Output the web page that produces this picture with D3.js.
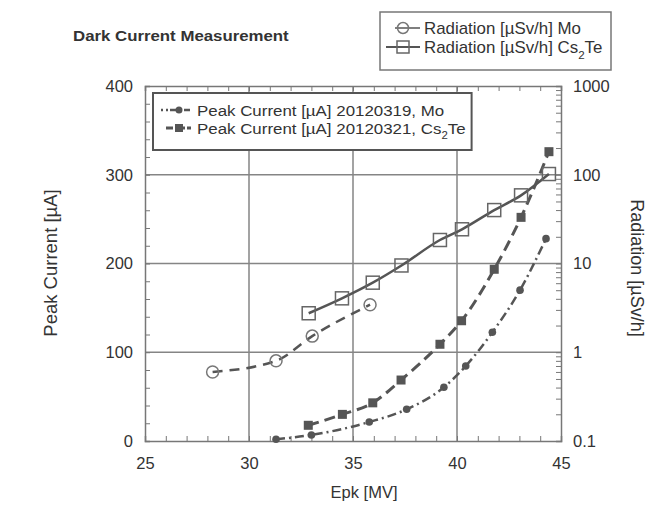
<!DOCTYPE html>
<html><head><meta charset="utf-8">
<script src="https://cdn.jsdelivr.net/npm/d3@7"></script>
<style>body{margin:0;background:#fff}svg{display:block}text{font-family:"Liberation Sans",Arial,sans-serif;fill:#333}</style>
</head><body><svg id="c" width="669" height="506"></svg>
<script>
// Data
const moRadX = [28.25, 31.3, 33.04, 35.82];
const moRadY = [0.6, 0.80, 1.52, 3.43];
const csRadX = [32.87, 34.47, 35.95, 37.33, 39.18, 40.24, 41.79, 43.08, 44.42];
const csRadY = [2.75, 4.05, 6.08, 9.5, 18.4, 24.3, 40, 58.6, 101.9];
const csCurX = [32.85, 34.49, 35.95, 37.31, 39.18, 40.22, 41.79, 43.08, 44.42];
const csCurY = [17.7, 30, 43, 68.7, 109, 135.5, 193.5, 252, 326];
const moCurX = [31.3, 33.0, 35.78, 37.58, 39.37, 40.42, 41.7, 43.03, 44.28];
const moCurY = [2, 6.8, 21.4, 35.7, 60.5, 84.5, 122.5, 170, 228];
const xTicks = [25, 30, 35, 40, 45];
const yLeftTicks = [0, 100, 200, 300, 400];
const yRightTicks = [0.1, 1, 10, 100, 1000];

const svg = d3.select("#c");
const L = 145, R = 561, T = 86, B = 441;
const x = d3.scaleLinear().domain([25, 45]).range([L, R]);
const yL = d3.scaleLinear().domain([0, 400]).range([B, T]);
const yR = d3.scaleLog().domain([0.1, 1000]).range([B, T]);
const grey = "#555";
const SX = 1.09; // horizontal stretch of the inner legend text

// gridlines
const g = svg.append("g");
g.selectAll(".vg").data(xTicks.slice(1, -1)).join("line")
  .attr("x1", d => x(d)).attr("x2", d => x(d)).attr("y1", T).attr("y2", B)
  .attr("stroke", "#858585").attr("stroke-width", 1.5);
g.selectAll(".hg").data(yLeftTicks.slice(1, -1)).join("line")
  .attr("y1", d => yL(d)).attr("y2", d => yL(d)).attr("x1", L).attr("x2", R)
  .attr("stroke", "#858585").attr("stroke-width", 1.5);

// axes (ticks inward)
const fmtR = d => d3.format("~g")(d);
const axB = svg.append("g").attr("transform", `translate(0,${B})`)
  .call(d3.axisBottom(x).tickValues(d3.range(25, 46, 1)).tickSize(-5).tickPadding(13)
    .tickFormat(d => xTicks.includes(d) ? d : ""));
const axT = svg.append("g").attr("transform", `translate(0,${T})`)
  .call(d3.axisTop(x).tickValues(d3.range(25, 46, 1)).tickSize(-5).tickFormat(""));
const axL = svg.append("g").attr("transform", `translate(${L},0)`)
  .call(d3.axisLeft(yL).tickValues(d3.range(0, 401, 20)).tickSize(-5).tickPadding(12)
    .tickFormat(d => yLeftTicks.includes(d) ? d : ""));
const minorR = [];
[0.1, 1, 10, 100].forEach(b => { for (let i = 1; i <= 9; i++) minorR.push(b * i); });
minorR.push(1000);
const axR = svg.append("g").attr("transform", `translate(${R},0)`)
  .call(d3.axisRight(yR).tickValues(minorR).tickSize(-5).tickPadding(12)
    .tickFormat(d => yRightTicks.some(t => Math.abs(t - d) < 1e-9) ? fmtR(d) : ""));
[axB, axT, axL, axR].forEach(a => {
  a.selectAll(".domain").attr("stroke", "#777").attr("stroke-width", 1.5);
  a.selectAll(".tick line").attr("stroke", "#777");
  a.selectAll("text").attr("font-size", 16.5).attr("fill", "#333");
});
axB.selectAll("text").attr("dy", "0.9em");
axR.selectAll(".tick line").attr("stroke-width", 1);

// series
const mk = (X, Y) => X.map((v, i) => [v, Y[i]]);
const moRad = mk(moRadX, moRadY), csRad = mk(csRadX, csRadY);
const csCur = mk(csCurX, csCurY), moCur = mk(moCurX, moCurY);
const lineR = d3.line().x(d => x(d[0])).y(d => yR(d[1])).curve(d3.curveMonotoneX);
const lineL = d3.line().x(d => x(d[0])).y(d => yL(d[1])).curve(d3.curveMonotoneX);

svg.append("path").attr("d", lineR(moRad)).attr("fill", "none").attr("stroke", grey)
  .attr("stroke-width", 2.5).attr("stroke-dasharray", "10,7");
svg.append("path").attr("d", lineR(csRad)).attr("fill", "none").attr("stroke", grey).attr("stroke-width", 2.5);
svg.append("path").attr("d", lineL(csCur)).attr("fill", "none").attr("stroke", grey)
  .attr("stroke-width", 3).attr("stroke-dasharray", "11,6");
svg.append("path").attr("d", lineL(moCur)).attr("fill", "none").attr("stroke", grey)
  .attr("stroke-width", 2.5).attr("stroke-dasharray", "9,4,2,4");

svg.selectAll(".moRad").data(moRad).join("circle")
  .attr("cx", d => x(d[0])).attr("cy", d => yR(d[1])).attr("r", 6)
  .attr("fill", "none").attr("stroke", "#777").attr("stroke-width", 1.5);
svg.selectAll(".csRad").data(csRad).join("rect")
  .attr("x", d => x(d[0]) - 6.5).attr("y", d => yR(d[1]) - 6.5).attr("width", 13).attr("height", 13)
  .attr("fill", "none").attr("stroke", "#666").attr("stroke-width", 1.5);
svg.selectAll(".csCur").data(csCur).join("rect")
  .attr("x", d => x(d[0]) - 4.5).attr("y", d => yL(d[1]) - 4.5).attr("width", 9).attr("height", 9)
  .attr("fill", "#555");
svg.selectAll(".moCur").data(moCur).join("circle")
  .attr("cx", d => x(d[0])).attr("cy", d => yL(d[1])).attr("r", 3.8).attr("fill", "#555");

// title
svg.append("text").attr("transform", "translate(73,41) scale(1.16,1)").attr("font-size", 14.5)
  .attr("font-weight", "bold").attr("fill", "#222").text("Dark Current Measurement");

// axis titles
svg.append("text").attr("x", 364).attr("y", 498).attr("text-anchor", "middle")
  .attr("font-size", 16.5).text("Epk [MV]");
svg.append("text").attr("transform", "translate(57,263) rotate(-90)").attr("text-anchor", "middle")
  .attr("font-size", 18.5).text("Peak Current [µA]");
svg.append("text").attr("transform", "translate(631,268) rotate(90)").attr("text-anchor", "middle")
  .attr("font-size", 18).text("Radiation [µSv/h]");

// legend (top right)
const lg1 = svg.append("g");
lg1.append("rect").attr("x", 380).attr("y", 12).attr("width", 231).attr("height", 58)
  .attr("fill", "#fff").attr("stroke", "#777").attr("stroke-width", 1.5);
lg1.append("line").attr("x1", 395).attr("x2", 420).attr("y1", 28).attr("y2", 28).attr("stroke", grey).attr("stroke-width", 1.5);
lg1.append("circle").attr("cx", 403).attr("cy", 28).attr("r", 5.5).attr("fill", "none").attr("stroke", "#777").attr("stroke-width", 1.5);
lg1.append("line").attr("x1", 386).attr("x2", 420).attr("y1", 47).attr("y2", 47).attr("stroke", grey).attr("stroke-width", 2);
lg1.append("rect").attr("x", 397).attr("y", 41).attr("width", 12).attr("height", 12).attr("fill", "none").attr("stroke", "#666").attr("stroke-width", 1.5);
lg1.append("text").attr("transform", "translate(424,34) scale(1.055,1)").attr("font-size", 16).text("Radiation [µSv/h] Mo");
const t2 = lg1.append("text").attr("transform", "translate(424,53) scale(1.055,1)").attr("font-size", 16);
t2.append("tspan").text("Radiation [µSv/h] Cs");
t2.append("tspan").attr("dy", 6).attr("font-size", 11).text("2");
t2.append("tspan").attr("dy", -6).text("Te");

// legend (inner)
const lg2 = svg.append("g");
const box2 = lg2.append("rect").attr("x", 153).attr("y", 93).attr("height", 57)
  .attr("fill", "#fff").attr("stroke", "#555").attr("stroke-width", 2);
lg2.append("line").attr("x1", 161).attr("x2", 190).attr("y1", 110).attr("y2", 110).attr("stroke", grey)
  .attr("stroke-width", 2.5).attr("stroke-dasharray", "2,3,2,2,12,2,6");
lg2.append("circle").attr("cx", 179).attr("cy", 110).attr("r", 3.5).attr("fill", "#555");
lg2.append("line").attr("x1", 166).attr("x2", 191).attr("y1", 128).attr("y2", 128).attr("stroke", grey)
  .attr("stroke-width", 3).attr("stroke-dasharray", "7,2,10,2,6");
lg2.append("rect").attr("x", 175).attr("y", 124).attr("width", 8).attr("height", 8).attr("fill", "#555");
const t3 = lg2.append("text").attr("transform", `translate(197,115.5) scale(${SX},1)`).attr("font-size", 15.5)
  .text("Peak Current [µA] 20120319, Mo");
const t4 = lg2.append("text").attr("transform", `translate(197,133.5) scale(${SX},1)`).attr("font-size", 15.5);
t4.append("tspan").text("Peak Current [µA] 20120321, Cs");
t4.append("tspan").attr("dy", 5).attr("font-size", 10.5).text("2");
t4.append("tspan").attr("dy", -5).text("Te");
const w2 = Math.max(t3.node().getComputedTextLength(), t4.node().getComputedTextLength()) * SX;
box2.attr("width", 197 - 153 + w2 + 6);
</script></body></html>
